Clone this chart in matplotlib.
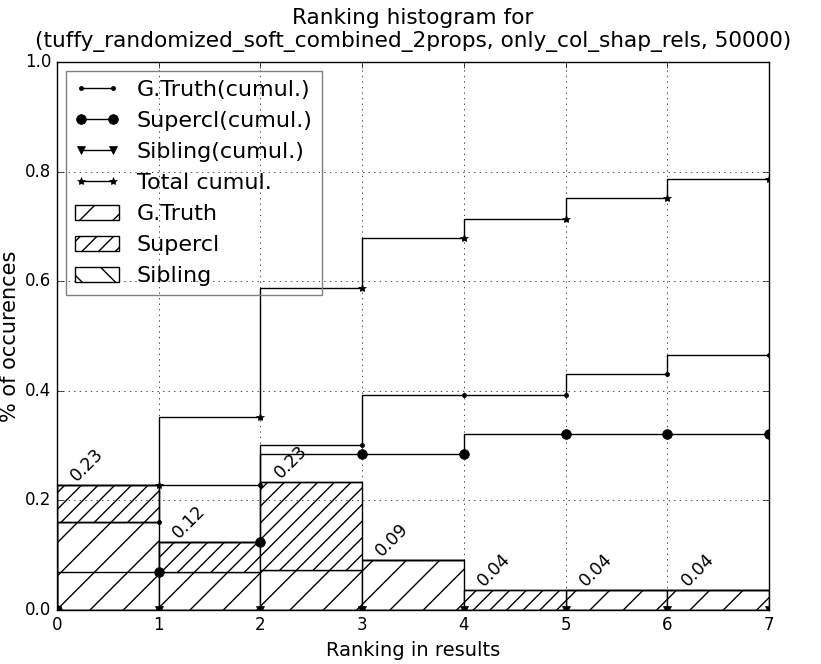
import numpy as np
import matplotlib
matplotlib.use('Agg')
import matplotlib.pyplot as plt

plt.style.use('classic')

# per-rank histogram values (fraction of occurences)
ranks = [0, 1, 2, 3, 4, 5, 6, 7]
gtruth_hist = [0.160, 0.069, 0.073, 0.091, 0.0, 0.037, 0.036]
supercl_hist = [0.069, 0.055, 0.161, 0.0, 0.036, 0.0, 0.0]
sibling_hist = [0.0, 0.0, 0.0, 0.0, 0.0, 0.0, 0.0]

gt = np.array(gtruth_hist)
sc = np.array(supercl_hist)
sib = np.array(sibling_hist)
total = gt + sc + sib

gt_cumul = np.concatenate([[0], np.cumsum(gt)])
sc_cumul = np.concatenate([[0], np.cumsum(sc)])
sib_cumul = np.concatenate([[0], np.cumsum(sib)])
total_cumul = np.concatenate([[0], np.cumsum(total)])

fig = plt.figure(figsize=(8.21, 6.64), dpi=100)
fig.subplots_adjust(left=0.0694, right=0.9367, bottom=0.0813, top=0.9066)
ax = fig.add_subplot(111)

ax.plot(ranks, gt_cumul, 'k.-', drawstyle='steps', label='G.Truth(cumul.)')
ax.plot(ranks, sc_cumul, 'ko-', drawstyle='steps', markersize=7,
        label='Supercl(cumul.)')
ax.plot(ranks, sib_cumul, 'kv-', drawstyle='steps', label='Sibling(cumul.)')
ax.plot(ranks, total_cumul, 'k*-', drawstyle='steps', label='Total cumul.')

left = ranks[:-1]
ax.bar(left, gt, width=1, align='edge', color='w', edgecolor='k',
       hatch='/', label='G.Truth')
ax.bar(left, sc, width=1, align='edge', bottom=gt, color='w', edgecolor='k',
       hatch='//', label='Supercl')
ax.bar(left, sib, width=1, align='edge', bottom=gt + sc, color='w',
       edgecolor='k', hatch='\\', label='Sibling')

for i, v in enumerate(total):
    ax.text(left[i] + 0.1, v, '%.2f' % v, rotation=45, ha='left',
            va='bottom', fontsize=12.5)

ax.set_xlim(0, 7)
ax.set_ylim(0, 1.0)
ax.grid(True)
ax.tick_params(labelsize=12)
ax.set_xlabel('Ranking in results', fontsize=14)
ax.set_ylabel('% of occurences', fontsize=15)
ax.yaxis.set_label_coords(-0.052, 0.5)
ax.set_title('Ranking histogram for\n'
             '(tuffy_randomized_soft_combined_2props, only_col_shap_rels, 50000)',
             fontsize=15.6, pad=11)

leg = ax.legend(loc='upper left', prop={'size': 16}, labelspacing=0.5,
                borderaxespad=0.4)
leg.get_frame().set_facecolor('none')
leg.get_frame().set_edgecolor('0.5')

fig.savefig('out.png', dpi=100)
